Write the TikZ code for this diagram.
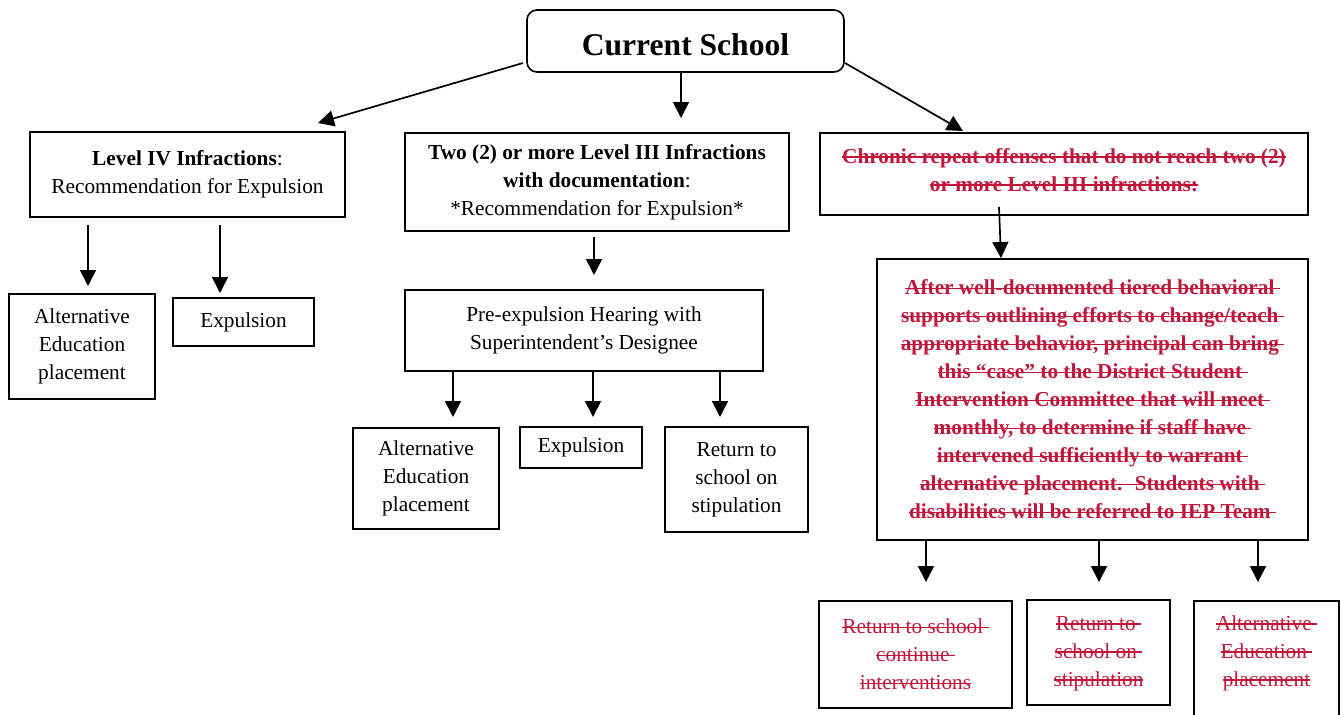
\documentclass[tikz,border=0pt]{standalone}
\usepackage{fontspec}
\setmainfont{Liberation Serif}
\usetikzlibrary{arrows.meta}
\definecolor{strikered}{RGB}{192,22,60}
\newcommand{\txtfont}{\fontsize{21.3}{28}\selectfont}
\newcommand{\so}[1]{\setbox0\hbox{#1}\leavevmode\rlap{\rule[0.26em]{\wd0}{1.5pt}}\box0}
\tikzset{
  box/.style={draw, line width=1.6pt, inner sep=0pt, align=center, font=\txtfont},
  redtxt/.style={text=strikered},
  arr/.style={line width=1.7pt, -{Triangle[width=16pt,length=16pt]}},
}
\begin{document}
\begin{tikzpicture}[x=1pt,y=-1pt]
\useasboundingbox (0,0) rectangle (1342,715);
\clip (0,0) rectangle (1342,715);
\fill[white] (0,0) rectangle (1342,715);

% top
\node[box, rounded corners=10pt, minimum width=317pt, minimum height=62pt] (cur) at (685.5,41) {};
\node[inner sep=0pt, font=\fontsize{31.6}{36}\selectfont\bfseries] (curt) at (685.5,45) {Current School};

% second row
\node[box, minimum width=315pt, minimum height=85pt] (l4) at (187.5,174.5)
  {\textbf{Level IV Infractions}:\\Recommendation for Expulsion};
\node[box, minimum width=384pt, minimum height=98pt] (l3) at (597,182)
  {\textbf{Two (2) or more Level III Infractions}\\\textbf{with documentation}:\\*Recommendation for Expulsion*};
\node[box, minimum width=488pt, minimum height=82pt] (chr) at (1064,174) {};
\node[redtxt, inner sep=0pt, align=center, font=\txtfont\bfseries] (chrt) at (1064,170)
  {\so{Chronic repeat offenses that do not reach two (2)}\\\so{or more Level III infractions:}};

% left column
\node[box, minimum width=146pt, minimum height=105pt] (alt1) at (82,346.5)
  {Alternative\\Education\\placement};
\node[box, minimum width=141pt, minimum height=48pt] (exp1) at (243.5,322) {Expulsion};

% middle column
\node[box, minimum width=358pt, minimum height=81pt] (pre) at (584,330.5)
  {Pre-expulsion Hearing with\\Superintendent’s Designee};
\node[box, minimum width=146pt, minimum height=101pt] (alt2) at (426,478.5)
  {Alternative\\Education\\placement};
\node[box, minimum width=122pt, minimum height=41pt] (exp2) at (581,447.5) {Expulsion};
\node[box, minimum width=143pt, minimum height=105pt] (ret2) at (736.5,479.5)
  {Return to\\school on\\stipulation};

% right column
\node[box, redtxt, minimum width=431pt, minimum height=281pt, font=\txtfont\bfseries] (big) at (1092.5,399.5)
  {\so{After well-documented tiered behavioral~}\\
   \so{supports outlining efforts to change/teach~}\\
   \so{appropriate behavior, principal can bring~}\\
   \so{this “case” to the District Student~}\\
   \so{Intervention Committee that will meet~}\\
   \so{monthly, to determine if staff have~}\\
   \so{intervened sufficiently to warrant~}\\
   \so{alternative placement.~ Students with~}\\
   \so{disabilities will be referred to IEP Team~}};

\node[box, redtxt, minimum width=193pt, minimum height=107pt] (r1) at (915.5,654.5)
  {\so{Return to school~}\\\so{continue~}\\\so{interventions}};
\node[box, minimum width=143pt, minimum height=105pt] (r2) at (1098.5,652.5) {};
\node[redtxt, inner sep=0pt, align=center, font=\txtfont] (r2t) at (1098.5,653.5)
  {\so{Return to~}\\\so{school on~}\\\so{stipulation}};
\node[box, minimum width=145pt, minimum height=124pt] (r3) at (1266.5,663) {};
\node[redtxt, inner sep=0pt, align=center, font=\txtfont] (r3t) at (1266.5,653)
  {\so{Alternative~}\\\so{Education~}\\\so{placement}};

% arrow end points
\coordinate (c1s) at (523,63);   \coordinate (c1e) at (318,123);
\coordinate (c2s) at (681,73);   \coordinate (c2e) at (681,118);
\coordinate (c3s) at (845,63);   \coordinate (c3e) at (963,131);
\coordinate (a1s) at (88,225);   \coordinate (a1e) at (88,286);
\coordinate (a2s) at (220,225);  \coordinate (a2e) at (220,293);
\coordinate (a3s) at (594,237);  \coordinate (a3e) at (594,275);
\coordinate (a4s) at (453,371);  \coordinate (a4e) at (453,417);
\coordinate (a5s) at (593,371);  \coordinate (a5e) at (593,417);
\coordinate (a6s) at (720,371);  \coordinate (a6e) at (720,417);
\coordinate (a7s) at (999,207);  \coordinate (a7e) at (1001,258);
\coordinate (a8s) at (926,540);  \coordinate (a8e) at (926,582);
\coordinate (a9s) at (1099,540); \coordinate (a9e) at (1099,582);
\coordinate (a10s) at (1258,540); \coordinate (a10e) at (1258,582);

\draw[arr] (c1s) -- (c1e);
\draw[arr] (c2s) -- (c2e);
\draw[arr] (c3s) -- (c3e);
\draw[arr] (a1s) -- (a1e);
\draw[arr] (a2s) -- (a2e);
\draw[arr] (a3s) -- (a3e);
\draw[arr] (a4s) -- (a4e);
\draw[arr] (a5s) -- (a5e);
\draw[arr] (a6s) -- (a6e);
\draw[arr] (a7s) -- (a7e);
\draw[arr] (a8s) -- (a8e);
\draw[arr] (a9s) -- (a9e);
\draw[arr] (a10s) -- (a10e);
\end{tikzpicture}
\end{document}
